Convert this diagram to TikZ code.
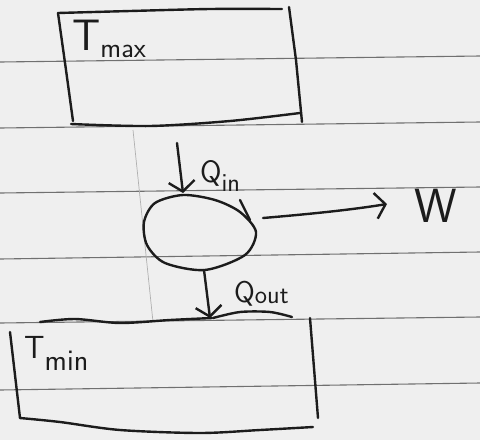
\documentclass[tikz,border=0pt]{standalone}
\usetikzlibrary{arrows.meta}
\definecolor{paper}{HTML}{EFEFEF}
\definecolor{ink}{HTML}{1C1C1C}
\definecolor{rule}{HTML}{707070}
\begin{document}
\begin{tikzpicture}[x=1pt,y=-1pt,
  inkline/.style={draw=ink,line width=2.4pt,line cap=round,line join=round},
  paperline/.style={draw=rule,line width=1.1pt},
  barb/.style={-{Straight Barb[length=10pt,width=26pt,line width=2.4pt]}},
  lbl/.style={anchor=base west,inner sep=0pt,text=ink,font=\sffamily}]
\fill[paper] (0,0) rectangle (480,440);
\useasboundingbox (0,0) rectangle (480,440);
% ruled paper
\foreach \a/\b in {62/56,128/122,193/187,259/252,323/317,390/383}
  \draw[paperline] (0,\a) -- (480,\b);
\draw[draw=rule!55,line width=0.7pt] (133,130) -- (153,322);
% hot reservoir
\draw[inkline] plot[smooth] coordinates {(58,13) (130,11) (210,9) (282,9)};
\draw[inkline] (289,7) -- (296,60) -- (302,122);
\draw[inkline] (58,13) -- (66,70) -- (73,121);
\draw[inkline] plot[smooth] coordinates {(71,124) (150,126) (230,121) (300,113)};
\node[lbl] (tmax) at (72,50) {\fontsize{44}{44}\selectfont T\raisebox{-7pt}{\fontsize{28}{28}\selectfont max}};
% engine
\draw[inkline] plot[smooth cycle] coordinates {(144,222) (155,203) (183,195) (215,200) (240,212) (256,232) (245,255) (205,270) (165,263) (147,245)};
\draw[inkline] (240,200) -- (250,220);
% cold reservoir
\draw[inkline] plot[smooth] coordinates {(40,322) (75,319) (120,323) (170,320) (212,318)};
\draw[inkline] plot[smooth] coordinates {(213,318) (240,312) (270,312) (292,317)};
\draw[inkline] (310,318) -- (318,418);
\draw[inkline] (10,332) -- (20,418);
\draw[inkline] plot[smooth] coordinates {(20,418) (60,422) (120,430) (200,433) (260,430) (313,427)};
\node[lbl] (tmin) at (24,358) {\fontsize{32}{32}\selectfont T\raisebox{-12pt}{\fontsize{30}{30}\selectfont min}};
% arrows
\coordinate (qinS) at (177,143);
\coordinate (qinE) at (183,193);
\coordinate (wS) at (263,218);
\coordinate (wE) at (387,204);
\coordinate (qoutS) at (204,270);
\coordinate (qoutE) at (210,318);
\draw[inkline,barb] (qinS) -- (qinE);
\draw[inkline,barb] (wS) .. controls (310,214) and (350,210) .. (wE);
\draw[inkline,barb] (qoutS) -- (qoutE);
\node[lbl] (qin) at (200,182) {\fontsize{31}{31}\selectfont Q\raisebox{-9pt}{\fontsize{26}{26}\selectfont in}};
\node[lbl] (qout) at (234,302) {\fontsize{30}{30}\selectfont Q\raisebox{-1pt}{\fontsize{26}{26}\selectfont out}};
\node[lbl] (w) at (414,222) {\fontsize{48}{48}\selectfont W};
\end{tikzpicture}
\end{document}
